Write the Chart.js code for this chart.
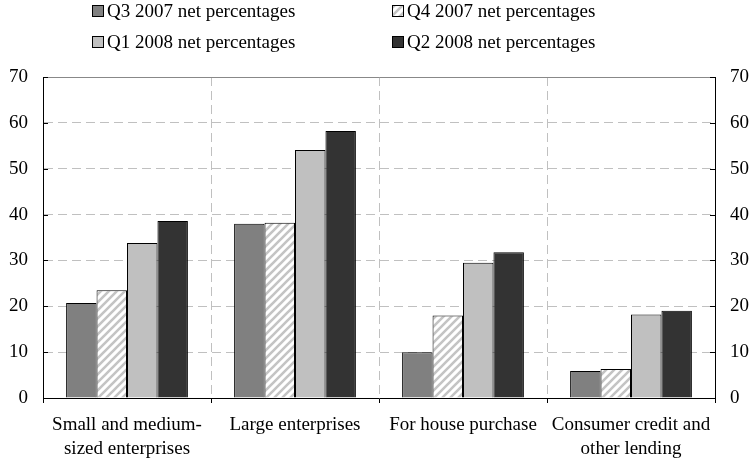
<!DOCTYPE html>
<html>
<head>
<meta charset="utf-8">
<script src="https://cdn.jsdelivr.net/npm/chart.js@4/dist/chart.umd.min.js"></script>
<style>
  html, body { margin: 0; padding: 0; background: #fff; }
  canvas { display: block; }
</style>
</head>
<body>
<canvas id="chart" width="750" height="460"></canvas>
<script>
// DATA
const categories = [
  ["Small and medium-", "sized enterprises"],
  ["Large enterprises"],
  ["For house purchase"],
  ["Consumer credit and", "other lending"]
];
const seriesNames = [
  "Q3 2007 net percentages",
  "Q4 2007 net percentages",
  "Q1 2008 net percentages",
  "Q2 2008 net percentages"
];
const q3_2007 = [20.7, 38.0, 10.0, 5.9];
const q4_2007 = [23.5, 38.2, 18.0, 6.3];
const q1_2008 = [33.8, 54.1, 29.5, 18.2];
const q2_2008 = [38.6, 58.2, 31.8, 19.0];
const yTicks = [0, 10, 20, 30, 40, 50, 60, 70];

const FONT = "'Liberation Serif', 'Times New Roman', serif";
const GRID = "#c0c0c0";

// HATCH PATTERN for Q4 2007
function makeHatch() {
  const c = document.createElement("canvas");
  c.width = 8;
  c.height = 8;
  const g = c.getContext("2d");
  g.fillStyle = "#fff";
  g.fillRect(0, 0, 8, 8);
  g.strokeStyle = "#c4c4c4";
  g.lineWidth = 2.6;
  g.beginPath();
  g.moveTo(-2, 10); g.lineTo(10, -2);
  g.moveTo(-2, 2); g.lineTo(2, -2);
  g.moveTo(6, 10); g.lineTo(10, 6);
  g.stroke();
  return g.createPattern(c, "repeat");
}
const hatch = makeHatch();

const fills = ["#808080", hatch, "#c0c0c0", "#333333"];
const values = [q3_2007, q4_2007, q1_2008, q2_2008];

// LEGEND (2 x 2 grid, drawn on the canvas)
const gridLegend = {
  id: "gridLegend",
  afterDraw(chart) {
    const ctx = chart.ctx;
    const colX = [92, 392];
    const rowY = [5, 36];
    ctx.save();
    ctx.font = "19px " + FONT;
    ctx.textBaseline = "middle";
    chart.data.datasets.forEach((ds, i) => {
      const x = colX[i % 2];
      const y = rowY[Math.floor(i / 2)];
      ctx.fillStyle = ds.backgroundColor;
      ctx.fillRect(x, y, 12, 12);
      ctx.strokeStyle = "#000";
      ctx.lineWidth = 1;
      ctx.strokeRect(x + 0.5, y + 0.5, 11, 11);
      ctx.fillStyle = "#000";
      ctx.fillText(ds.label, x + 15, y + 7);
    });
    ctx.restore();
  }
};

// SHORT INWARD TICKS on both value axes
const innerTicks = {
  id: "innerTicks",
  afterDatasetsDraw(chart) {
    const ctx = chart.ctx;
    const { left, right } = chart.chartArea;
    const y = chart.scales.y;
    ctx.save();
    ctx.strokeStyle = "#000";
    ctx.lineWidth = 1;
    ctx.beginPath();
    yTicks.forEach(v => {
      const py = Math.round(y.getPixelForValue(v)) + 0.5;
      ctx.moveTo(left, py); ctx.lineTo(left + 5, py);
      ctx.moveTo(right - 5, py); ctx.lineTo(right, py);
    });
    ctx.stroke();
    ctx.restore();
  }
};

// CHART
new Chart(document.getElementById("chart"), {
  type: "bar",
  data: {
    labels: categories,
    datasets: seriesNames.map((name, i) => ({
      label: name,
      data: values[i],
      backgroundColor: fills[i],
      borderColor: "#000",
      borderWidth: 1,
      categoryPercentage: 0.725,
      barPercentage: 1.0
    }))
  },
  options: {
    responsive: false,
    animation: false,
    devicePixelRatio: 1,
    layout: { padding: { top: 77, left: 9, right: 1, bottom: 0 } },
    plugins: {
      legend: { display: false },
      tooltip: { enabled: false }
    },
    scales: {
      x: {
        afterFit: axis => { axis.height = 62; },
        grid: {
          offset: true,
          color: ctx => (ctx.index === undefined || ctx.index === 0) ? "rgba(0,0,0,0)" : GRID,
          tickColor: "#000",
          tickLength: 5,
          tickBorderDash: []
        },
        border: { color: "#000", width: 1, dash: [9, 5] },
        ticks: {
          color: "#000",
          font: { family: FONT, size: 19, lineHeight: 1.25 },
          padding: 10,
          maxRotation: 0,
          autoSkip: false
        }
      },
      y: {
        position: "left",
        min: 0,
        max: 70,
        afterFit: axis => { axis.width = 34; },
        afterBuildTicks: axis => { axis.ticks = yTicks.map(v => ({ value: v })); },
        grid: {
          drawTicks: false,
          color: ctx => {
            if (!ctx.tick || ctx.tick.value === 0) return "rgba(0,0,0,0)";
            return ctx.tick.value === 70 ? "#888" : GRID;
          }
        },
        border: {
          color: "#000",
          width: 1,
          dash: ctx => (ctx.tick && ctx.tick.value === 70) ? [] : [9, 5]
        },
        ticks: { color: "#000", font: { family: FONT, size: 19 }, padding: 15 }
      },
      y2: {
        position: "right",
        min: 0,
        max: 70,
        afterFit: axis => { axis.width = 34; },
        afterBuildTicks: axis => { axis.ticks = yTicks.map(v => ({ value: v })); },
        grid: { drawOnChartArea: false, drawTicks: false },
        border: { color: "#000", width: 1 },
        ticks: { color: "#000", font: { family: FONT, size: 19 }, padding: 15 }
      }
    }
  },
  plugins: [gridLegend, innerTicks]
});
</script>
</body>
</html>
